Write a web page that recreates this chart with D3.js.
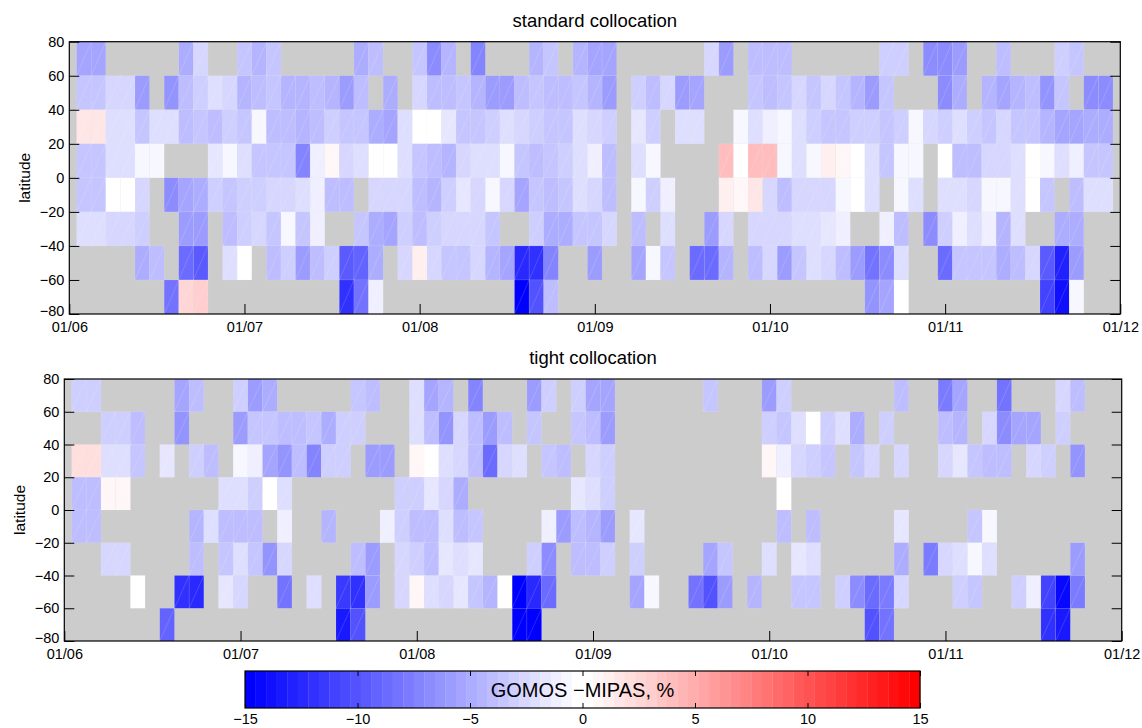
<!DOCTYPE html>
<html>
<head>
<meta charset="utf-8">
<script src="https://cdn.jsdelivr.net/npm/d3@7"></script>
<style>
  body { margin: 0; background: #fff; }
  text { font-family: "Liberation Sans", Arial, sans-serif; }
</style>
</head>
<body>
<div id="chart"></div>
<script>
// gray (no data) cells
const _ = null;

// x axis: month ticks, cells are 1/12 month wide
const monthLabels = ["01/06", "01/07", "01/08", "01/09", "01/10", "01/11", "01/12"];
const latTicks = [80, 60, 40, 20, 0, -20, -40, -60, -80];
// centres of the 20 deg latitude bands, top to bottom
const latBands = [70, 50, 30, 10, -10, -30, -50, -70];
const cbarTicks = [-15, -10, -5, 0, 5, 10, 15];

// standard collocation, GOMOS - MIPAS in %, one array per latitude band
const stdN70 = [-5.5,-5.5,_,_,_,_,_,-5,-2.5,_,
  _,-3.5,-4.5,-3.5,_,_,_,_,_,-5,
  -4,_,_,-3.5,-7,-4.5,_,-7.5,_,_,
  _,-4.5,-3.5,_,-4.5,-5.5,-5.5,_,_,_,
  _,_,_,-2.5,-6,_,-4,-3.8,-4,_,
  _,_,_,_,_,-3,-3,_,-7,-7,
  -6,_,_,-3.8,_,_,_,-3,-3.3,_,
  _];
const stdN50 = [-3.5,-3.5,-2.7,-2.7,-6,_,-6.5,-4,-3,-2.2,
  -2.7,-4.5,-4.2,-3.5,-4.5,-4.5,-4.2,-4.5,-6,-4,
  _,-5,_,-2.7,-4.2,-4,-3.5,-4.5,-6,-6,
  -4,-3.3,-4.2,-3.8,-3.3,-4.5,-6,_,-3,-4,
  -2.5,-6,-5.3,_,_,_,-3.3,-3.8,-3.5,-2.5,
  -3.5,-2.7,-3.3,-4.5,-6,-3.5,_,_,_,-7,
  -5,_,-4.5,-5.3,-4.5,-4.2,-6.5,-3.3,_,-7,
  -7];
const stdN30 = [1.5,1.5,-2.3,-2.3,-3.5,-2.3,-2.3,-4.2,-3.5,-4.2,
  -3,-3.5,-0.5,-3.8,-3.8,-4.5,-3.8,-3.2,-3.5,-3.3,
  -5,-5.3,-2,0,0.4,-1.5,-3.3,-3.5,-3.2,-2.3,
  -2.5,-3.2,-3.3,-3.5,-2.3,-2.5,-3.2,_,-1.5,-3.2,
  _,-2.3,-2.3,_,_,-0.5,-2,-1.3,-0.5,-2.3,
  -3,-3.5,-3.5,-3.2,-3.2,-3.5,-3,-0.5,-2.7,-3.2,
  -2,-3,-3.5,-2.7,-3.5,-3.3,-4.5,-5.3,-5.3,-5,
  -5];
const stdN10 = [-3.5,-3.5,-2.2,-2.2,-0.8,-0.5,_,_,_,-1.5,
  -0.5,-2.3,-3.3,-3.5,-3.3,-7.5,-1.2,0.5,-2.5,-2,
  0,0,-2,-3.3,-4,-4.5,-2.5,-2,-2,-0.5,
  -3.5,-3.8,-3.5,-3,-2,-1.3,-4.2,_,-2,-0.5,
  _,_,_,_,3.8,0,4.1,3.8,-0.5,-2,
  -0.5,1,0.6,-0.2,-2.3,-3.5,-0.5,-0.5,_,0,
  -4,-4,-2.5,-2.7,-2.3,0.4,-0.5,-2.3,-1.2,-3.3,
  -3.3];
const stdS10 = [-3.3,-3.3,-0.3,-0.3,-2.5,_,-7,-5.3,-5,-3.2,
  -3.3,-3.2,-3,-2.7,-2.5,-2,-1.3,-4.2,-4,_,
  -2.5,-2.5,-2.7,-4.2,-4.5,-3,-1.5,-2.5,-0.5,-2.7,
  -5.3,-3.3,-4,-3.3,-2,-2.5,-4,_,-0.8,-3,
  -1.2,_,_,_,1.3,0.7,1.8,-2.7,-4,-2.5,
  -2.5,-2.7,-0.5,0,-2,_,-0.5,-2,_,-2,
  -2.3,-2.5,-0.8,-0.8,-2.3,0,-3.5,_,-4.2,-2.3,
  -2.3];
const stdS30 = [-2.3,-2.3,-2.5,-2.5,-3,_,_,-6,-6,_,
  -3.8,-3,-2.7,-3.5,-0.8,-3.3,-1.2,_,_,-3.5,
  -5,-5.3,-3,-3.8,-3,-2.7,-2.5,-2.5,-3.3,_,
  _,-3,-5,-5,-3.5,-3.5,-2.7,_,-3.8,_,
  -2.3,_,_,-6,-2.7,_,-2.7,-2.7,-2.5,-2.3,
  -2,-1.5,-1.2,_,_,-1.2,-3.8,_,-7,-3.2,
  -1.2,-2.3,-1.2,-4.5,-2.3,_,_,-5,-5,_,
  _];
const stdS50 = [_,_,_,_,-5,-4,_,-8.5,-9.5,_,
  -2.3,0,_,-3.8,-3,-6,-4.2,-3,-9.7,-9,
  -5,_,-2.7,1,-2.5,-3.3,-3.3,-2.5,-4.5,-5.3,
  -12.6,-11.8,-7.5,_,_,-6,_,_,-5.3,-0.8,
  -3.5,_,-8.5,-8.8,-4.5,_,-4.2,-2.5,-6,-3.5,
  -2.3,-2.7,-4,-6,-8,-7,-2,_,_,-8.5,
  -3.5,-3.3,-3.3,-5,-4.2,-2.7,-9.7,-12.9,-6,_,
  _];
const stdS70 = [_,_,_,_,_,_,-8.2,2.6,3,_,
  _,_,_,_,_,_,_,_,-11.8,-8,
  -1.2,_,_,_,_,_,_,_,_,_,
  -15,-10.3,-4,_,_,_,_,_,_,_,
  _,_,_,_,_,_,_,_,_,_,
  _,_,_,_,-6.5,-5.3,0.4,_,_,_,
  _,_,_,_,_,_,-11.2,-13.8,-0.8,_,
  _];

// tight collocation
const tgtN70 = [-3.2,-3.2,_,_,_,_,_,-5.3,-4,_,
  _,-3.2,-6,-5,_,_,_,_,_,-3.3,
  -3.8,_,_,-2,-5.3,-4.5,_,-7.5,_,_,
  _,-6,-3,_,-3.2,-5.5,-5.3,_,_,_,
  _,_,_,-3.3,_,_,_,-6,-3.2,_,
  _,_,_,_,_,_,-3.8,_,_,-7.8,
  -5.3,_,_,-8.2,_,_,_,-2.7,-4.2,_,
  _];
const tgtN50 = [_,_,-3,-3,-4,_,_,-6.5,_,_,
  _,-6,-3.5,-3.5,-4.2,-4.2,-3.3,-5,-3.2,-3.2,
  _,_,_,-2,-4.2,-6.5,-2.5,-4.2,-6,-4,
  _,-3.3,_,_,-3.3,-3.8,-6,_,_,_,
  _,_,_,_,_,_,_,-3.2,-3.5,-2.3,
  0,-3.2,-2,-5,_,-3,_,_,_,-4,
  -4.5,_,-2.7,-7,-5.3,-5.3,_,-3,_,_,
  _];
const tgtN30 = [2,2,-2,-2,-3.5,_,-1.5,_,-3.2,-4.2,
  _,-0.5,-1.2,-5.3,-6.5,-4,-7.5,-3,-3,_,
  -6,-6,_,0.6,0,-2.3,-2.7,-3.8,-8.5,-2.5,
  -2.3,_,-3.3,-3.8,_,-2.5,-3.2,_,_,_,
  _,_,_,_,_,_,_,0.6,-1.2,-2.7,
  -3.2,-3.3,_,-3.3,-2.7,_,-2.7,_,_,-2.7,
  -1.5,-3.3,-4,-4.2,_,-2.7,-3.2,_,-6.5,_,
  _];
const tgtN10 = [-3.8,-3.8,0.7,0.7,_,_,_,_,_,_,
  -2.3,-2.3,-3,0.3,-2,_,_,_,_,_,
  _,_,-3,-3,-1.5,-2.5,-5,_,_,_,
  _,_,_,_,-1.5,-2,-3.2,_,_,_,
  _,_,_,_,_,_,_,_,0.4,_,
  _,_,_,_,_,_,_,_,_,_,
  _,_,_,_,_,_,_,_,_,_,
  _];
const tgtS10 = [-4,-4,_,_,_,_,_,_,-4.5,-2.3,
  -3.8,-3.8,-4.2,_,-1.3,_,_,-4.5,_,_,
  _,-1.2,-3,-4.2,-4,-2.3,-4.2,-3.3,_,_,
  _,_,-1.2,-6,-4.2,-4.5,-6,_,-1.5,_,
  _,_,_,_,_,_,_,_,-3.8,_,
  -3.8,_,_,_,_,_,-1.5,_,_,_,
  _,-3.3,-0.5,_,_,_,_,_,_,_,
  _];
const tgtS30 = [_,_,-2.7,-2.7,_,_,_,_,-4,_,
  -3.5,-2.3,-3.3,-6.5,-2.5,_,_,_,_,-3.8,
  -6,_,-2.7,-3.2,-4.2,-1.5,-2,-1.5,_,_,
  _,-3,-7,_,-3.8,-3.8,-3,_,-3,_,
  _,_,_,-5.3,-3.3,_,_,-2.3,_,-1.5,
  -2.3,_,_,_,_,_,-5,_,-7.8,-2.5,
  -2.3,-0.8,-2,_,_,_,_,_,-6,_,
  _];
const tgtS50 = [_,_,_,_,0,_,_,-12,-12.4,_,
  -1.5,-2.5,_,_,-8,_,-2.3,_,-11.5,-11.8,
  -6,_,-2.5,0.7,-2.3,-2.7,-1.5,-3.5,-4.5,0,
  -15,-12.4,-8.5,_,_,_,_,_,-5.3,-0.8,
  _,_,-8.2,-10,-6,_,-4.5,_,_,-3.5,
  -3.5,_,-3.2,-7,-8.8,-7.8,-2.5,_,_,_,
  -3,-3.5,_,_,-3.2,-1.2,-11.2,-14.1,-7.8,_,
  _];
const tgtS70 = [_,_,_,_,_,_,-9,_,_,_,
  _,_,_,_,_,_,_,_,-13.2,-10.3,
  _,_,_,_,_,_,_,_,_,_,
  -15,-14.7,_,_,_,_,_,_,_,_,
  _,_,_,_,_,_,_,_,_,_,
  _,_,_,_,-10,-8,_,_,_,_,
  _,_,_,_,_,_,-11.8,-13.5,_,_,
  _];

var svg = d3.select("#chart").append("svg")
  .attr("width", 1142)
  .attr("height", 728);

// 64 step blue-white-red colormap
var palette = d3.range(64).map(function(i) {
  if (i < 32) {
    var c = Math.round(255 * i / 31);
    return `rgb(${c},${c},255)`;
  }
  var c2 = Math.round(255 * (1 - (i - 32) / 31));
  return `rgb(255,${c2},${c2})`;
});
var colour = d3.scaleQuantize().domain([-15, 15]).range(palette);

var panels = [
  { title: "standard collocation", rows: [stdN70, stdN50, stdN30, stdN10, stdS10, stdS30, stdS50, stdS70],
    left: 69.3, right: 1120.3, top: 41.7, bottom: 314, titleY: 27, labelX: 30 },
  { title: "tight collocation", rows: [tgtN70, tgtN50, tgtN30, tgtN10, tgtS10, tgtS30, tgtS50, tgtS70],
    left: 64.3, right: 1121.7, top: 379, bottom: 641, titleY: 364, labelX: 25 }
];

function styleAxis(g) {
  g.select(".domain").remove();
  g.selectAll(".tick line").attr("stroke", "#000");
  g.selectAll(".tick text").attr("fill", "#000")
    .style("font-family", '"Liberation Sans", Arial, sans-serif')
    .style("font-size", "14.5px");
}

panels.forEach(function(p) {
  var x = d3.scaleLinear().domain([0, 6]).range([p.left, p.right]);
  var y = d3.scaleLinear().domain([-80, 80]).range([p.bottom, p.top]);
  var g = svg.append("g");

  // gray background = no data
  g.append("rect")
    .attr("x", p.left).attr("y", p.top)
    .attr("width", p.right - p.left).attr("height", p.bottom - p.top)
    .attr("fill", "#cccccc");

  var cells = [];
  p.rows.forEach(function(row, r) {
    row.forEach(function(v, k) {
      if (v !== null) cells.push({ lat: latBands[r], k: k, v: v });
    });
  });

  g.selectAll("rect.cell").data(cells).enter().append("rect")
    .attr("class", "cell")
    .attr("x", d => x((d.k + 0.5) / 12))
    .attr("y", d => y(d.lat + 10))
    .attr("width", d => x((d.k + 1.5) / 12) - x((d.k + 0.5) / 12))
    .attr("height", d => y(d.lat - 10) - y(d.lat + 10))
    .attr("fill", d => colour(d.v))
    .attr("stroke", "rgba(255,255,255,0.18)")
    .attr("stroke-width", 0.5);

  // faint diagonal seams of the patches
  g.selectAll("line.diag").data(cells).enter().append("line")
    .attr("x1", d => x((d.k + 0.5) / 12))
    .attr("y1", d => y(d.lat - 10))
    .attr("x2", d => x((d.k + 1.5) / 12))
    .attr("y2", d => y(d.lat + 10))
    .attr("stroke", "#fff")
    .attr("stroke-opacity", 0.3)
    .attr("stroke-width", 0.5);

  g.append("g")
    .attr("transform", `translate(0,${p.bottom})`)
    .call(d3.axisBottom(x).tickValues(d3.range(7))
      .tickFormat(i => monthLabels[i])
      .tickSizeInner(-10).tickSizeOuter(0).tickPadding(8))
    .call(styleAxis);

  g.append("g")
    .attr("transform", `translate(${p.left},0)`)
    .call(d3.axisLeft(y).tickValues(latTicks)
      .tickSizeInner(-10).tickSizeOuter(0).tickPadding(5))
    .call(styleAxis)
    // lift the bottom label a little so it clears the first month label
    .call(g => g.selectAll(".tick text").filter(d => d === -80).attr("y", -3));

  g.append("g")
    .attr("transform", `translate(${p.right},0)`)
    .call(d3.axisRight(y).tickValues(latTicks).tickFormat("")
      .tickSizeInner(-10).tickSizeOuter(0))
    .call(styleAxis);

  g.append("rect")
    .attr("x", p.left).attr("y", p.top)
    .attr("width", p.right - p.left).attr("height", p.bottom - p.top)
    .attr("fill", "none").attr("stroke", "#000").attr("stroke-width", 1.2);

  g.append("text")
    .attr("x", (p.left + p.right) / 2).attr("y", p.titleY)
    .attr("text-anchor", "middle")
    .style("font-size", "18.5px")
    .text(p.title);

  g.append("text")
    .attr("transform", `translate(${p.labelX},${(p.top + p.bottom) / 2}) rotate(-90)`)
    .attr("text-anchor", "middle")
    .style("font-size", "15.5px")
    .text("latitude");
});

// colour bar
var cx = d3.scaleLinear().domain([-15, 15]).range([245, 920]);
var cbTop = 671, cbBottom = 708;
var cb = svg.append("g");
cb.selectAll("rect.step").data(palette).enter().append("rect")
  .attr("x", (d, i) => cx(-15 + i * 30 / 64))
  .attr("y", cbTop)
  .attr("width", cx(-15 + 30 / 64) - cx(-15) + 0.3)
  .attr("height", cbBottom - cbTop)
  .attr("fill", d => d);

cb.append("g")
  .attr("transform", `translate(0,${cbBottom})`)
  .call(d3.axisBottom(cx).tickValues(cbarTicks)
    .tickSizeInner(-5).tickSizeOuter(0).tickPadding(6))
  .call(styleAxis);
cb.append("g")
  .attr("transform", `translate(0,${cbTop})`)
  .call(d3.axisTop(cx).tickValues(cbarTicks).tickFormat("")
    .tickSizeInner(-5).tickSizeOuter(0))
  .call(styleAxis);
cb.append("rect")
  .attr("x", cx(-15)).attr("y", cbTop)
  .attr("width", cx(15) - cx(-15)).attr("height", cbBottom - cbTop)
  .attr("fill", "none").attr("stroke", "#000").attr("stroke-width", 1.2);
cb.append("text")
  .attr("x", cx(0)).attr("y", (cbTop + cbBottom) / 2)
  .attr("dy", "0.36em")
  .attr("text-anchor", "middle")
  .style("font-size", "20px")
  .text("GOMOS \u2212MIPAS, %");
</script>
</body>
</html>
